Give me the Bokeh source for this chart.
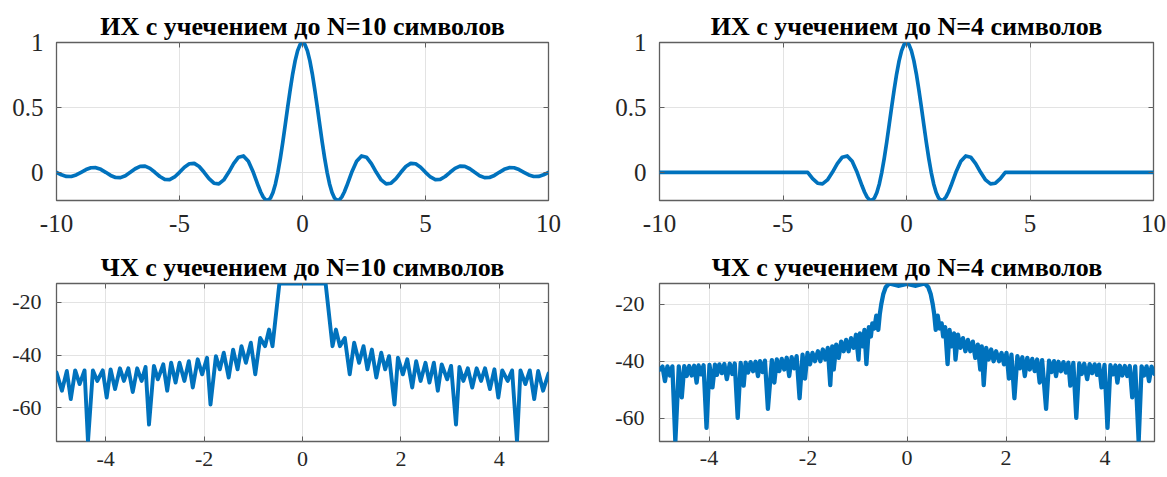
from bokeh.plotting import figure
from bokeh.layouts import column, row
from bokeh.models import Range1d, FixedTicker, LinearAxis, NumeralTickFormatter
from bokeh.embed import file_html
from bokeh.resources import INLINE

# ---------------- data ----------------
titles = ["ИХ с учечением до N=10 символов", "ИХ с учечением до N=4 символов",
          "ЧХ с учечением до N=10 символов", "ЧХ с учечением до N=4 символов"]

t_ticks = [-10, -5, 0, 5, 10]
ir_yticks = [0, 0.5, 1]
f_ticks = [-4, -2, 0, 2, 4]
db_ticks = [-60, -40, -20]

# impulse response, N=10
t10 = [-10, -9.8, -9.6, -9.4, -9.2, -9, -8.8, -8.6, -8.4, -8.2, -8, -7.8, -7.6, -7.4, -7.2, -7,
       -6.8, -6.6, -6.4, -6.2, -6, -5.8, -5.6, -5.4, -5.2, -5, -4.8, -4.6, -4.4, -4.2, -4,
       -3.8, -3.6, -3.4, -3.2, -3, -2.8, -2.6, -2.4, -2.2, -2, -1.9, -1.8, -1.7, -1.6, -1.5,
       -1.4, -1.3, -1.2, -1.1, -1, -0.9, -0.8, -0.7, -0.6, -0.5, -0.4, -0.3, -0.2, -0.1, 0,
       0.1, 0.2, 0.3, 0.4, 0.5, 0.6, 0.7, 0.8, 0.9, 1, 1.1, 1.2, 1.3, 1.4, 1.5, 1.6, 1.7, 1.8,
       1.9, 2, 2.2, 2.4, 2.6, 2.8, 3, 3.2, 3.4, 3.6, 3.8, 4, 4.2, 4.4, 4.6, 4.8, 5, 5.2, 5.4,
       5.6, 5.8, 6, 6.2, 6.4, 6.6, 6.8, 7, 7.2, 7.4, 7.6, 7.8, 8, 8.2, 8.4, 8.6, 8.8, 9, 9.2,
       9.4, 9.6, 9.8, 10]
h10 = [0, -0.0191, -0.0315, -0.0322, -0.0203, 0, 0.0213, 0.0352, 0.0360, 0.0228, 0,
       -0.0240, -0.0398, -0.0409, -0.0260, 0, 0.0275, 0.0459, 0.0473, 0.0302, 0,
       -0.0323, -0.0541, -0.0561, -0.0360, 0, 0.0390, 0.0658, 0.0688, 0.0445, 0,
       -0.0492, -0.0841, -0.0890, -0.0585, 0, 0.0668, 0.1164, 0.1261, 0.0850, 0,
       -0.0518, -0.1039, -0.1514, -0.1892, -0.2122, -0.2162, -0.1981, -0.1559, -0.0894, 0,
       0.1093, 0.2339, 0.3679, 0.5046, 0.6366, 0.7568, 0.8584, 0.9355, 0.9836, 1,
       0.9836, 0.9355, 0.8584, 0.7568, 0.6366, 0.5046, 0.3679, 0.2339, 0.1093, 0,
       -0.0894, -0.1559, -0.1981, -0.2162, -0.2122, -0.1892, -0.1514, -0.1039, -0.0518, 0,
       0.0850, 0.1261, 0.1164, 0.0668, 0, -0.0585, -0.0890, -0.0841, -0.0492, 0,
       0.0445, 0.0688, 0.0658, 0.0390, 0, -0.0360, -0.0561, -0.0541, -0.0323, 0,
       0.0302, 0.0473, 0.0459, 0.0275, 0, -0.0260, -0.0409, -0.0398, -0.0240, 0,
       0.0228, 0.0360, 0.0352, 0.0213, 0, -0.0203, -0.0322, -0.0315, -0.0191, 0]

# impulse response, N=4
t4 = [-10, -4, -3.8, -3.6, -3.4, -3.2, -3, -2.8, -2.6, -2.4, -2.2, -2, -1.9, -1.8, -1.7, -1.6,
      -1.5, -1.4, -1.3, -1.2, -1.1, -1, -0.9, -0.8, -0.7, -0.6, -0.5, -0.4, -0.3, -0.2, -0.1,
      0, 0.1, 0.2, 0.3, 0.4, 0.5, 0.6, 0.7, 0.8, 0.9, 1, 1.1, 1.2, 1.3, 1.4, 1.5, 1.6, 1.7,
      1.8, 1.9, 2, 2.2, 2.4, 2.6, 2.8, 3, 3.2, 3.4, 3.6, 3.8, 4, 10]
h4 = [0, 0, -0.0492, -0.0841, -0.0890, -0.0585, 0, 0.0668, 0.1164, 0.1261, 0.0850, 0,
      -0.0518, -0.1039, -0.1514, -0.1892, -0.2122, -0.2162, -0.1981, -0.1559, -0.0894, 0,
      0.1093, 0.2339, 0.3679, 0.5046, 0.6366, 0.7568, 0.8584, 0.9355, 0.9836, 1,
      0.9836, 0.9355, 0.8584, 0.7568, 0.6366, 0.5046, 0.3679, 0.2339, 0.1093, 0,
      -0.0894, -0.1559, -0.1981, -0.2162, -0.2122, -0.1892, -0.1514, -0.1039, -0.0518, 0,
      0.0850, 0.1261, 0.1164, 0.0668, 0, -0.0585, -0.0890, -0.0841, -0.0492, 0, 0]

# frequency response, N=10 (dB)
f10_neg = [-5.00, -4.89, -4.79, -4.71, -4.62, -4.53, -4.43, -4.36, -4.26, -4.17, -4.06, -3.98,
           -3.90, -3.81, -3.71, -3.63, -3.54, -3.45, -3.36, -3.27, -3.19, -3.12, -3.02, -2.94,
           -2.83, -2.75, -2.67, -2.58, -2.50, -2.40, -2.31, -2.23, -2.13, -2.04, -1.94, -1.87,
           -1.76, -1.68, -1.60, -1.50, -1.41, -1.32, -1.24, -1.15, -1.05, -0.96, -0.86, -0.76,
           -0.68, -0.61, -0.47]
db10_neg = [-46.6, -53.5, -46.0, -56.7, -45.8, -51.0, -45.8, -72.8, -45.8, -49.8, -45.8, -56.1,
            -45.4, -52.9, -45.0, -49.8, -45.0, -54.0, -45.0, -49.8, -44.5, -66.4, -44.1, -49.2,
            -43.5, -53.5, -42.9, -50.4, -42.9, -49.8, -42.3, -52.3, -41.6, -47.3, -41.0, -58.8,
            -40.4, -45.4, -39.1, -48.5, -37.9, -45.4, -36.6, -42.9, -35.3, -47.3, -33.5, -36.6,
            -30.3, -36.6, -12.8]
f10_pos = [0.47, 0.61, 0.68, 0.76, 0.86, 0.96, 1.05, 1.15, 1.24, 1.32, 1.41, 1.50, 1.60, 1.68,
           1.76, 1.87, 1.94, 2.04, 2.13, 2.23, 2.31, 2.40, 2.50, 2.58, 2.67, 2.75, 2.83, 2.94,
           3.02, 3.12, 3.19, 3.27, 3.36, 3.45, 3.54, 3.63, 3.71, 3.81, 3.90, 3.98, 4.06, 4.17,
           4.26, 4.36, 4.43, 4.53, 4.62, 4.71, 4.79, 4.89, 5.00]
db10_pos = [-12.8, -36.6, -30.3, -36.6, -33.5, -47.3, -35.3, -42.9, -36.6, -45.4, -37.9, -48.5,
            -39.1, -45.4, -40.4, -58.8, -41.0, -47.3, -41.6, -52.3, -42.3, -49.8, -42.9, -50.4,
            -42.9, -53.5, -43.5, -49.2, -44.1, -66.4, -44.5, -49.8, -45.0, -52.3, -45.0, -49.8,
            -45.0, -52.9, -45.4, -56.1, -45.8, -49.8, -45.8, -72.8, -45.8, -51.0, -45.8, -56.7,
            -46.0, -53.5, -47.0]

# frequency response, N=4 (dB)
f4_neg = [-5.00, -4.94, -4.89, -4.84, -4.79, -4.74, -4.68, -4.61, -4.55, -4.50, -4.45, -4.40,
          -4.35, -4.30, -4.25, -4.21, -4.16, -4.11, -4.05, -3.99, -3.93, -3.88, -3.84, -3.79,
          -3.74, -3.69, -3.64, -3.58, -3.53, -3.48, -3.42, -3.36, -3.30, -3.26, -3.21, -3.16,
          -3.11, -3.06, -3.01, -2.97, -2.92, -2.87, -2.81, -2.73, -2.68, -2.63, -2.58, -2.53,
          -2.48, -2.43, -2.38, -2.33, -2.28, -2.23, -2.17, -2.11, -2.06, -2.01, -1.96, -1.91,
          -1.86, -1.80, -1.75, -1.70, -1.65, -1.60, -1.55, -1.51, -1.48, -1.43, -1.38, -1.33,
          -1.28, -1.23, -1.18, -1.13, -1.08, -1.03, -0.98, -0.95, -0.90, -0.86, -0.82, -0.77,
          -0.73, -0.70, -0.66, -0.62, -0.58, -0.55, -0.52, -0.48, -0.43, -0.36, -0.18]
db4_neg = [-43.0, -41.9, -47.0, -41.8, -45.0, -41.8, -68.2, -41.8, -52.7, -41.7, -45.2, -41.7,
           -45.0, -41.6, -47.5, -41.5, -44.6, -41.4, -63.4, -41.3, -49.2, -41.2, -44.8, -41.1,
           -44.2, -41.0, -46.3, -40.9, -44.5, -40.8, -59.9, -40.6, -48.6, -40.5, -44.0, -40.3,
           -43.5, -40.2, -45.2, -40.0, -43.8, -39.8, -56.7, -39.6, -47.5, -39.4, -43.5, -39.2,
           -42.9, -38.8, -45.2, -38.6, -42.5, -38.2, -53.0, -37.7, -46.1, -37.1, -41.1, -37.1,
           -40.0, -36.5, -40.0, -35.9, -39.4, -35.3, -48.4, -34.8, -42.9, -34.2, -38.8, -33.1,
           -36.5, -32.5, -36.5, -31.9, -35.3, -30.7, -39.4, -30.2, -34.8, -29.0, -41.0, -28.0,
           -31.3, -26.7, -28.5, -24.0, -29.0, -23.5, -20.0, -16.5, -14.0, -12.7, -13.5]
f4_mid = [0.0]
db4_mid = [-12.8]
f4_pos = [0.18, 0.36, 0.43, 0.48, 0.52, 0.55, 0.58, 0.62, 0.66, 0.70, 0.73, 0.77, 0.82, 0.86,
          0.90, 0.95, 0.98, 1.03, 1.08, 1.13, 1.18, 1.23, 1.28, 1.33, 1.38, 1.43, 1.48, 1.51,
          1.55, 1.60, 1.65, 1.70, 1.75, 1.80, 1.86, 1.91, 1.96, 2.01, 2.06, 2.11, 2.17, 2.23,
          2.28, 2.33, 2.38, 2.43, 2.48, 2.53, 2.58, 2.63, 2.68, 2.73, 2.81, 2.87, 2.92, 2.97,
          3.01, 3.06, 3.11, 3.16, 3.21, 3.26, 3.30, 3.36, 3.42, 3.48, 3.53, 3.58, 3.64, 3.69,
          3.74, 3.79, 3.84, 3.88, 3.93, 3.99, 4.05, 4.11, 4.16, 4.21, 4.25, 4.30, 4.35, 4.40,
          4.45, 4.50, 4.55, 4.61, 4.68, 4.74, 4.79, 4.84, 4.89, 4.94, 5.00]
db4_pos = [-13.5, -12.7, -14.0, -16.5, -20.0, -23.5, -29.0, -24.0, -28.5, -26.7, -31.3, -28.0,
           -41.0, -29.0, -34.8, -30.2, -39.4, -30.7, -35.3, -31.9, -36.5, -32.5, -36.5, -33.1,
           -38.8, -34.2, -42.9, -34.8, -48.4, -35.3, -39.4, -35.9, -40.0, -36.5, -40.0, -37.1,
           -41.1, -37.1, -46.1, -37.7, -53.0, -38.2, -42.5, -38.6, -45.2, -38.8, -42.9, -39.2,
           -43.5, -39.4, -47.5, -39.6, -56.7, -39.8, -43.8, -40.0, -45.2, -40.2, -43.5, -40.3,
           -44.0, -40.5, -48.6, -40.6, -59.9, -40.8, -44.5, -40.9, -46.3, -41.0, -44.2, -41.1,
           -44.8, -41.2, -49.2, -41.3, -63.4, -41.4, -44.6, -41.5, -47.5, -41.6, -45.0, -41.7,
           -45.2, -41.7, -52.7, -41.8, -68.2, -41.8, -45.0, -41.8, -47.0, -41.9, -44.5]

f10 = f10_neg + f10_pos
db10 = db10_neg + db10_pos
f4 = f4_neg + f4_mid + f4_pos
db4 = db4_neg + db4_mid + db4_pos

# ---------------- styling ----------------
BLUE = "#0072BD"
FRAME = "#5f5f5f"
GRID = "#e3e3e3"
TXT = "#262626"
FONT = "Liberation Serif"


def make(title, xs, ys, xr, yr, xticks, yticks, fmt_y, w, h, bl, br, bt, bb,
         tick_fs, xstand, ystand, lw):
    p = figure(width=w, height=h, x_range=Range1d(*xr), y_range=Range1d(*yr),
               output_backend="svg", toolbar_location=None,
               min_border_left=bl, min_border_right=br, min_border_top=bt, min_border_bottom=bb,
               background_fill_color="white", border_fill_color="white")
    p.title.text = title
    p.title.align = "center"
    p.title.text_font = FONT
    p.title.text_font_style = "bold"
    p.title.text_font_size = "26px"
    p.title.text_color = "black"
    p.title.standoff = 4
    p.outline_line_color = FRAME
    p.outline_line_width = 1.3

    for ax, ticks, fmt in ((p.xaxis[0], xticks, "0"), (p.yaxis[0], yticks, fmt_y)):
        ax.ticker = FixedTicker(ticks=ticks)
        ax.formatter = NumeralTickFormatter(format=fmt)
        ax.axis_line_color = None
        ax.major_tick_in = 5
        ax.major_tick_out = 0
        ax.major_tick_line_color = FRAME
        ax.minor_tick_line_color = None
        ax.major_label_text_font = FONT
        ax.major_label_text_font_size = tick_fs
        ax.major_label_text_color = TXT
    p.xaxis.major_label_standoff = xstand
    p.yaxis.major_label_standoff = ystand

    # inward ticks on the opposite sides (box-style axes), without labels
    for loc, ticks in (("right", yticks), ("above", xticks)):
        ax = LinearAxis(ticker=FixedTicker(ticks=ticks), axis_line_color=None,
                        major_tick_in=5, major_tick_out=0, major_tick_line_color=FRAME,
                        minor_tick_line_color=None, major_label_standoff=0,
                        major_label_overrides={t: "" for t in ticks})
        p.add_layout(ax, loc)

    p.xgrid.grid_line_color = GRID
    p.ygrid.grid_line_color = GRID
    p.xgrid.grid_line_width = 1
    p.ygrid.grid_line_width = 1

    p.line(xs, ys, line_color=BLUE, line_width=lw, line_join="round", line_cap="round")
    return p


p1 = make(titles[0], t10, h10, (-10, 10), (-0.2172, 1.0), t_ticks, ir_yticks, "0.[0]",
          583, 244, 56, 35, 42, 44, "25px", 14, 13, 3.7)
p2 = make(titles[1], t4, h4, (-10, 10), (-0.2172, 1.0), t_ticks, ir_yticks, "0.[0]",
          584, 244, 76, 14, 41, 44, "25px", 14, 13, 3.7)
p3 = make(titles[2], f10, db10, (-5, 5), (-72.8, -12.8), f_ticks, db_ticks, "0",
          583, 233, 56, 35, 38, 36, "22px", 10, 15, 3.9)
p4 = make(titles[3], f4, db4, (-5, 5), (-68.2, -12.7), f_ticks, db_ticks, "0",
          584, 233, 76, 13, 39, 34, "22px", 9, 15, 4.3)

layout = column(row(p1, p2), row(p3, p4))
open("out.html", "w").write(file_html(layout, INLINE))
